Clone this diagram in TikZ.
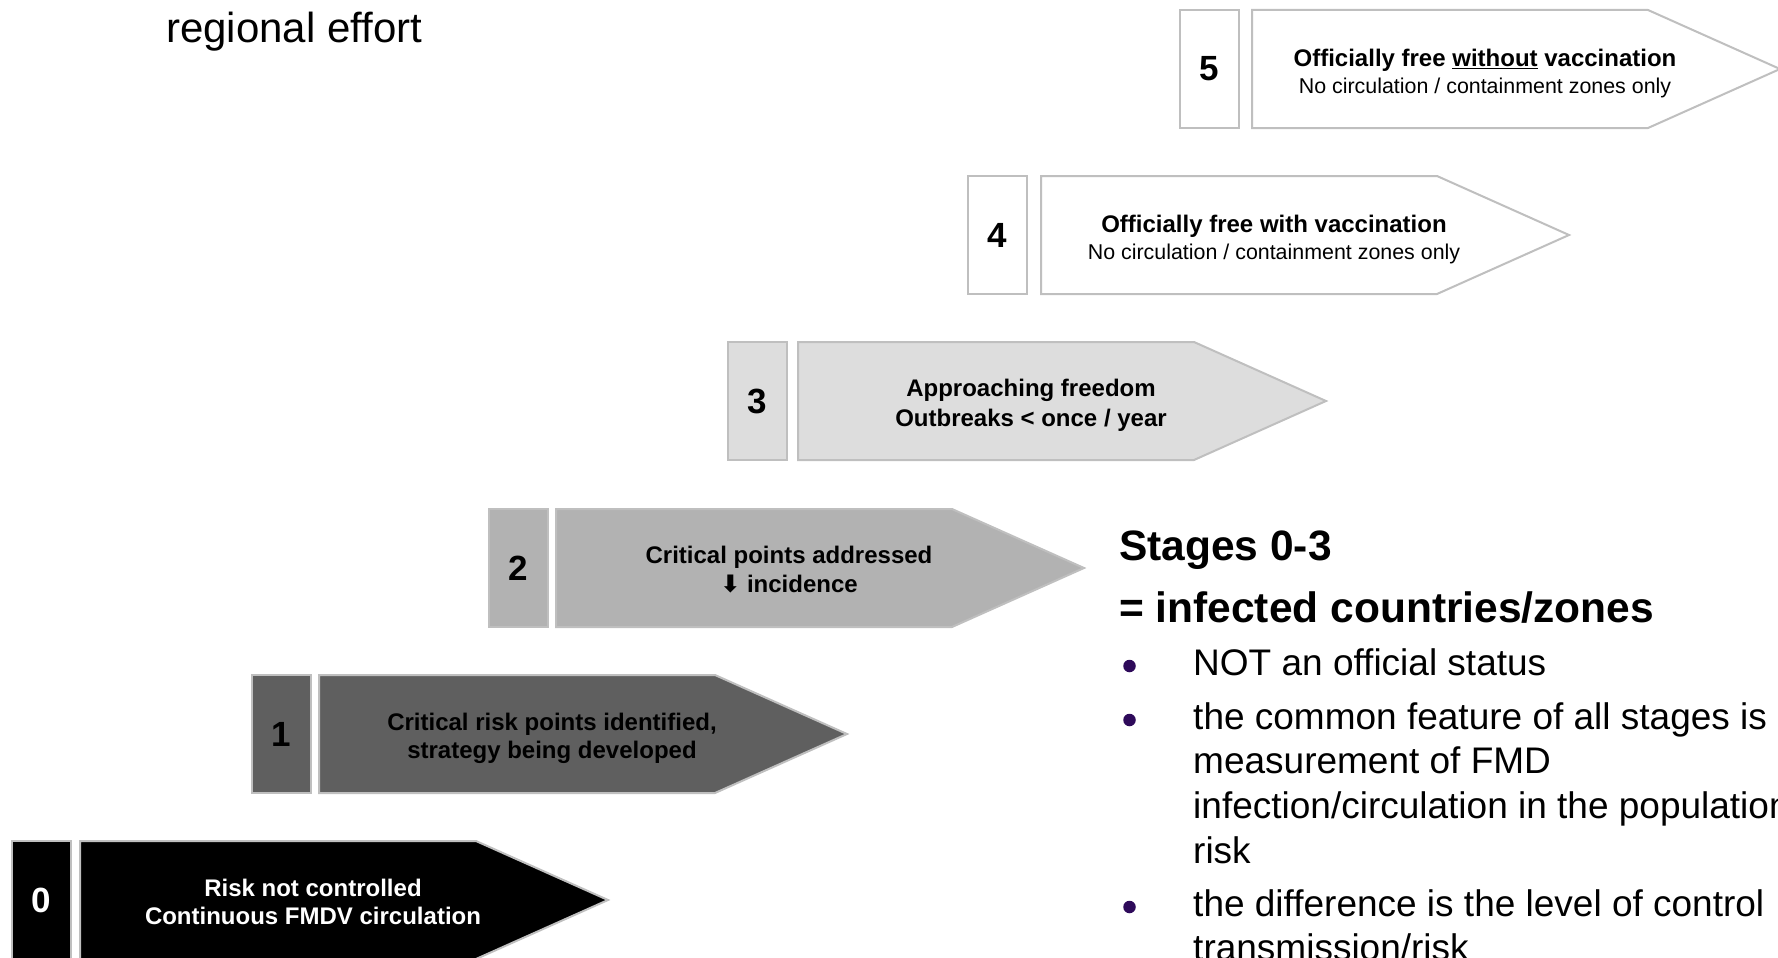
\documentclass[tikz,border=0pt]{standalone}
\usepackage{fontspec}
\setmainfont{Liberation Sans}
\newfontfamily\symfont{DejaVu Sans}
\definecolor{edgegray}{HTML}{BFBFBF}
\definecolor{stageone}{HTML}{5F5F5F}
\definecolor{stagetwo}{HTML}{B2B2B2}
\definecolor{stagethree}{HTML}{DDDDDD}
\definecolor{bulletc}{HTML}{2E0A5A}
% #1 name, #2 number-box left, #3 body left, #4 top, #5 fill, #6 text colour, #7 number, #8 text, #9 extra text options
\newcommand\mkstage[9]{%
  \node[numbox, fill=#5, text=#6] (n#1) at ({#2+30.5},{#4+60}) {#7};
  \draw[bodyline, fill=#5] ({#3+1},{#4+1}) -- ({#3+397},{#4+1}) -- ({#3+529},{#4+60})
        -- ({#3+397},{#4+119}) -- ({#3+1},{#4+119}) -- cycle;
  \node[bodytext, text=#6, #9] (t#1) at ({#3+234},{#4+61}) {#8};
}
\begin{document}
\begin{tikzpicture}[x=1pt,y=-1pt,
  numbox/.style={draw=edgegray, line width=2pt, minimum width=59pt, minimum height=118pt,
                 inner sep=0pt, font=\fontsize{35}{40}\selectfont\bfseries},
  bodyline/.style={draw=edgegray, line width=2pt, line join=miter},
  bodytext/.style={align=center, inner sep=0pt, font=\fontsize{24}{28.5}\selectfont\bfseries},
  freetext/.style={font=\fontsize{24}{27}\selectfont\bfseries},
  sidehead/.style={anchor=base west, inner sep=0pt, font=\fontsize{42.5}{50}\selectfont\bfseries},
  bullettext/.style={anchor=base west, inner sep=0pt, font=\fontsize{37}{44}\selectfont},
  bulletdot/.style={circle, fill=bulletc, minimum size=12.5pt, inner sep=0pt},
  titletext/.style={anchor=base west, inner sep=0pt, font=\fontsize{42}{50}\selectfont}]
\useasboundingbox (0,0) rectangle (1778,958);
\clip (0,0) rectangle (1778,958);

\node[titletext] (title) at (166,43) {regional effort};

\mkstage{5}{1179}{1251}{9}{white}{black}{5}%
  {Officially free \underline{without} vaccination\\{\mdseries\fontsize{21.4}{27}\selectfont No circulation / containment zones only}}{freetext, yshift=-3.5pt}
\mkstage{4}{967}{1040}{175}{white}{black}{4}%
  {Officially free with vaccination\\{\mdseries\fontsize{21.4}{27}\selectfont No circulation / containment zones only}}{freetext, yshift=-3.5pt}
\mkstage{3}{727}{797}{341}{stagethree}{black}{3}%
  {Approaching freedom\\Outbreaks < once / year}{font=\fontsize{24}{29.5}\selectfont\bfseries, yshift=-3.5pt}
\mkstage{2}{488}{555}{508}{stagetwo}{black}{2}%
  {Critical points addressed\\{\symfont\bfseries ⬇} incidence}{yshift=-0.5pt}
\mkstage{1}{251}{318}{674}{stageone}{black}{1}%
  {Critical risk points identified,\\strategy being developed}{yshift=-3.5pt}
\mkstage{0}{11}{79}{840}{black}{white}{0}%
  {Risk not controlled\\Continuous FMDV circulation}{yshift=-1pt}

\node[sidehead] (h1) at (1119,560) {Stages 0-3};
\node[sidehead] (h2) at (1119,622) {= infected countries/zones};

\node[bulletdot] (d1) at (1129.5,666) {};
\node[bullettext] (b1) at (1193,675) {NOT an official status};
\node[bulletdot] (d2) at (1129.5,720) {};
\node[bullettext] (b2a) at (1193,729) {the common feature of all stages is};
\node[bullettext] (b2b) at (1193,773.5) {measurement of FMD};
\node[bullettext] (b2c) at (1193,818.5) {infection/circulation in the population};
\node[bullettext] (b2d) at (1193,863) {risk};
\node[bulletdot] (d3) at (1129.5,907) {};
\node[bullettext] (b3a) at (1193,916.5) {the difference is the level of control};
\node[bullettext] (b3b) at (1193,960) {transmission/risk};
\end{tikzpicture}
\end{document}
